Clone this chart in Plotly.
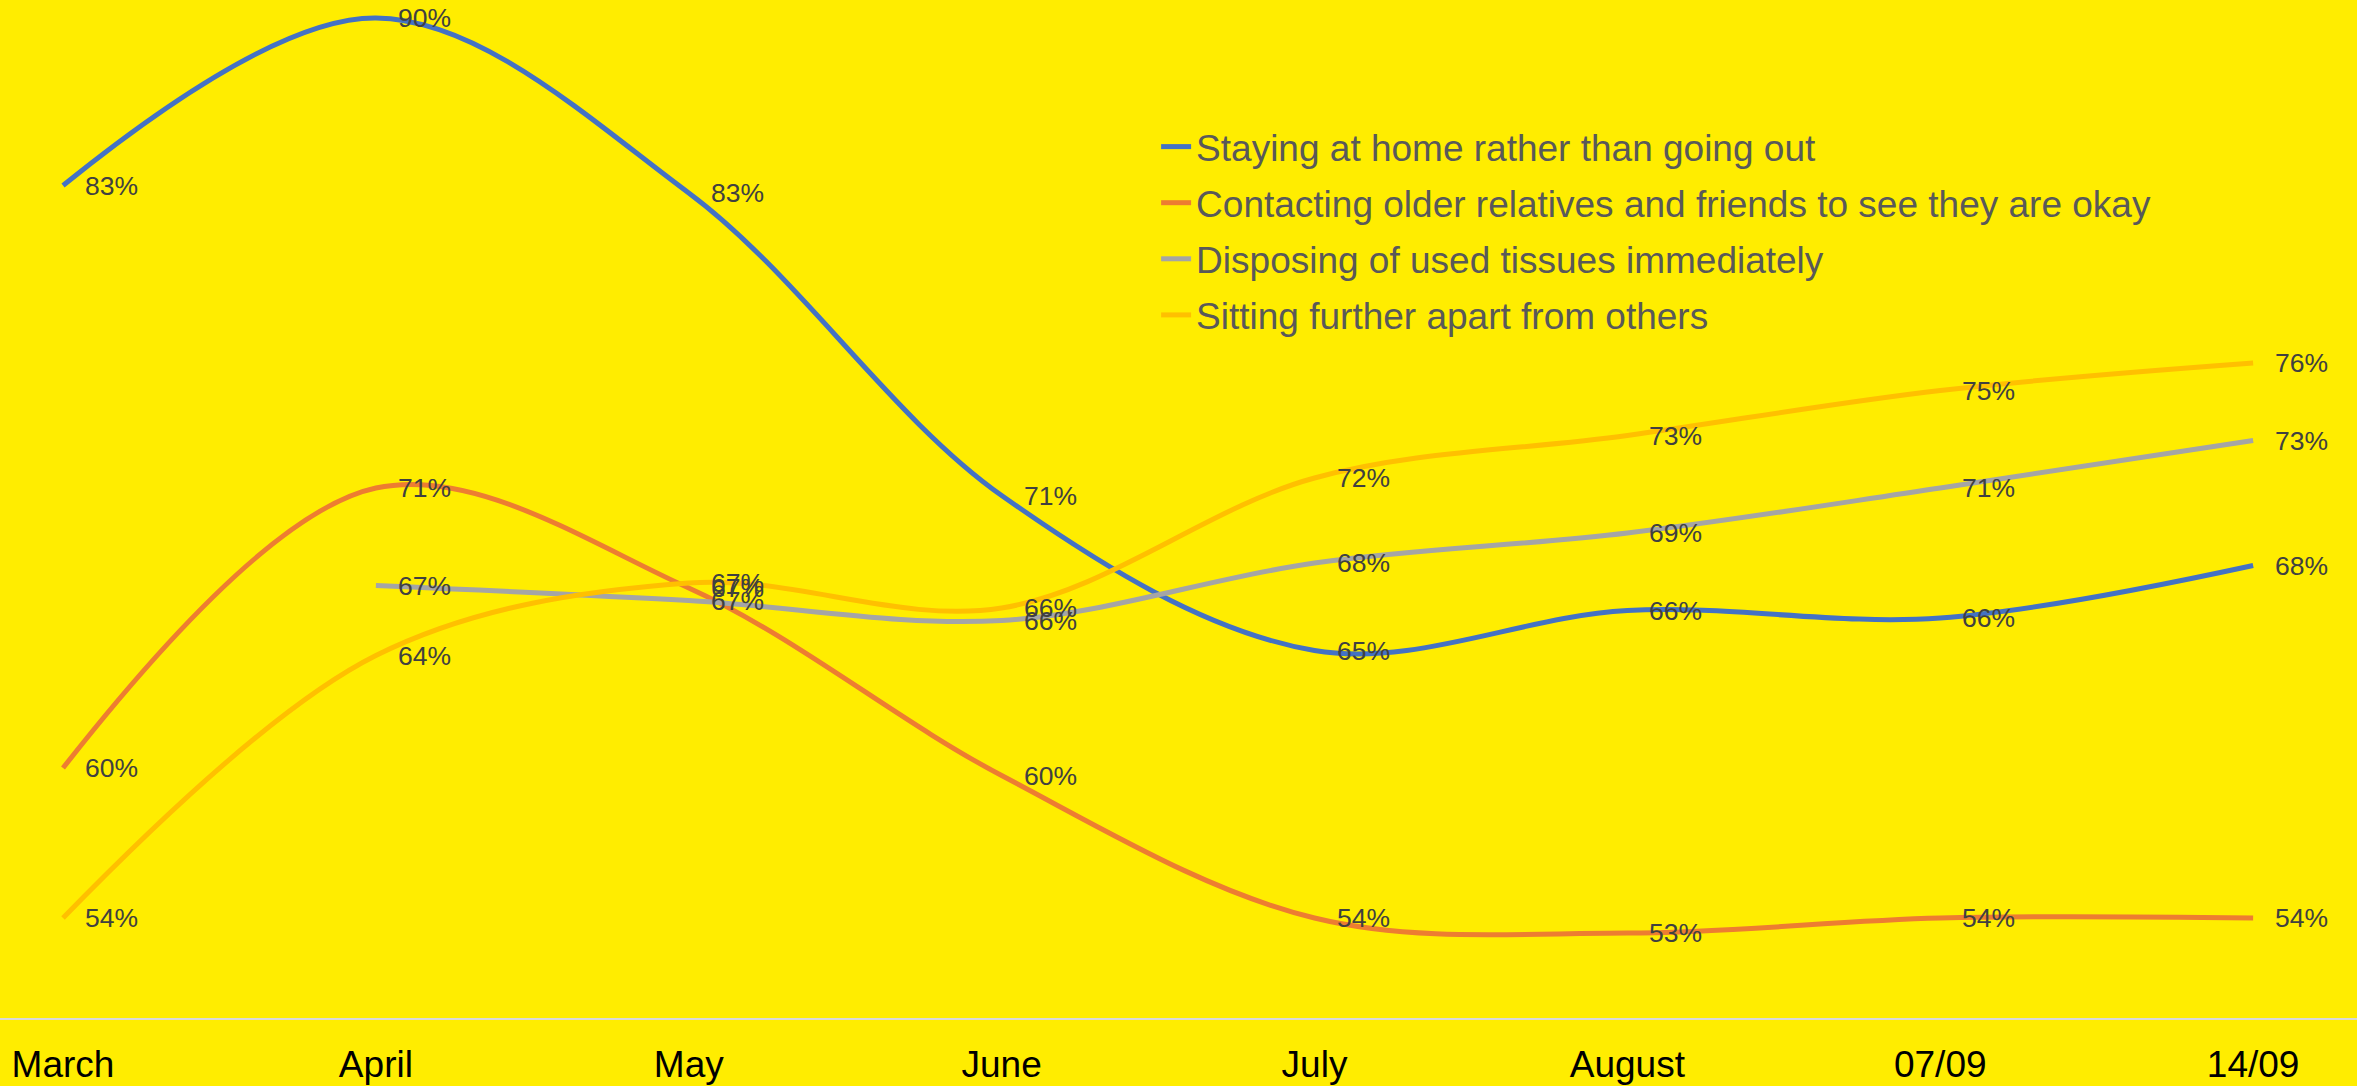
import plotly.graph_objects as go

categories = ["March", "April", "May", "June", "July", "August", "07/09", "14/09"]
staying_home = [83.3, 90.0, 83.0, 70.9, 64.7, 66.3, 66.0, 68.1]
contacting_older = [60.0, 71.2, 67.2, 59.7, 54.0, 53.4, 54.0, 54.0]
disposing_tissues = [None, 67.3, 66.7, 65.9, 68.2, 69.4, 71.2, 73.1]
sitting_apart = [54.0, 64.5, 67.4, 66.4, 71.6, 73.3, 75.1, 76.2]

series = [
    ("Staying at home rather than going out", staying_home, "#4472C4"),
    ("Contacting older relatives and friends to see they are okay", contacting_older, "#ED7D31"),
    ("Disposing of used tissues immediately", disposing_tissues, "#A5A5A5"),
    ("Sitting further apart from others", sitting_apart, "#FFC000"),
]

fig = go.Figure()
annotations = []
for i, (name, vals, color) in enumerate(series):
    fig.add_trace(go.Scatter(
        x=categories, y=vals, name=name, mode="lines",
        legendgroup=f"g{i}",
        line=dict(color=color, width=5, shape="spline", smoothing=1.0),
        connectgaps=False, hoverinfo="skip",
    ))
    for c, v in zip(categories, vals):
        if v is None:
            continue
        annotations.append(dict(
            x=c, y=v, xref="x", yref="y", text=f"{round(v)}%",
            showarrow=False, xanchor="left", yanchor="middle", xshift=20,
            font=dict(family="Liberation Sans, Arial, sans-serif", size=26.5, color="#404040"),
        ))

fig.update_layout(
    width=2357, height=1086,
    paper_bgcolor="#FFED00", plot_bgcolor="#FFED00",
    margin=dict(l=0, r=0, t=0, b=68),
    font=dict(family="Liberation Sans, Arial, sans-serif"),
    showlegend=True,
    legend=dict(
        x=0.4905, y=0.886, xanchor="left", yanchor="top",
        bgcolor="rgba(0,0,0,0)",
        font=dict(size=37, color="#595959"),
        traceorder="grouped",
        tracegroupgap=5,
    ),
    annotations=annotations,
    xaxis=dict(
        type="category", range=[-0.2014, 7.332],
        showgrid=False, zeroline=False,
        showline=True, linecolor="#D9D9D9", linewidth=2,
        ticks="", tickfont=dict(size=37, color="#000000"),
        ticklabelstandoff=13,
    ),
    yaxis=dict(
        range=[50, 90.72], showgrid=False, zeroline=False,
        showline=False, showticklabels=False, ticks="",
    ),
)

fig.write_html(
    "out.html",
    config={"displayModeBar": False},
    post_script="document.body.style.margin='0';document.body.style.background='#FFED00';",
)
